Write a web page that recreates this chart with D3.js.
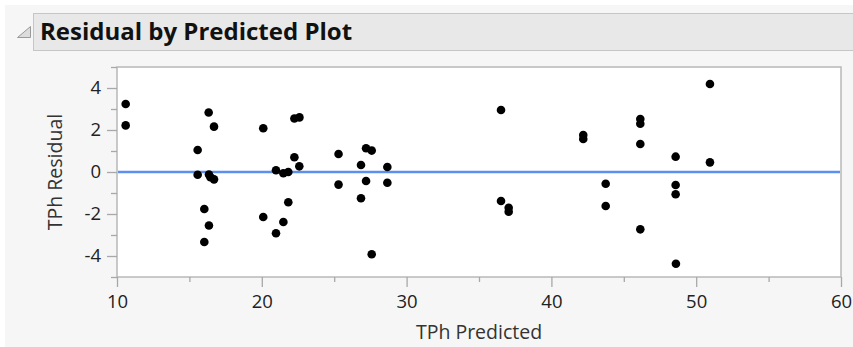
<!DOCTYPE html>
<html>
<head>
<meta charset="utf-8">
<script src="https://cdn.jsdelivr.net/npm/d3@7"></script>
<style>
  html, body { margin: 0; padding: 0; background: #ffffff; }
  svg { display: block; }
  text { font-family: "Open Sans", "Noto Sans", sans-serif; }
</style>
</head>
<body>
<svg id="chart" width="853" height="347"></svg>
<script>
// Predicted TPh values and their residuals
const predicted = [
  10.6, 10.6,
  15.57, 15.57, 16.33, 16.7, 16.35, 16.45, 16.7, 16.03, 16.35, 16.03,
  20.1, 22.25, 22.6, 20.98, 21.49, 21.83, 22.25, 22.59, 21.83, 20.1, 21.49, 20.98,
  25.3, 25.3, 26.85, 26.85, 27.2, 27.59, 27.2, 27.59, 28.67, 28.67,
  36.52, 36.52, 37.05, 37.05,
  42.2, 42.2, 43.75, 43.75,
  46.14, 46.14, 46.14, 46.14,
  48.58, 48.58, 48.58, 48.6,
  50.95, 50.95
];
const residual = [
  3.24, 2.22,
  1.05, -0.13, 2.83, 2.16, -0.12, -0.25, -0.35, -1.76, -2.55, -3.33,
  2.08, 2.55, 2.6, 0.08, -0.06, 0.0, 0.7, 0.27, -1.44, -2.14, -2.38, -2.92,
  0.86, -0.6, 0.33, -1.25, 1.13, 1.02, -0.43, -3.92, 0.24, -0.51,
  2.95, -1.38, -1.7, -1.89,
  1.76, 1.57, -0.56, -1.62,
  2.52, 2.3, 1.33, -2.73,
  0.73, -0.62, -1.06, -4.37,
  4.19, 0.46
];
const xTicks = [10, 20, 30, 40, 50, 60];
const xMinorTicks = [15, 25, 35, 45, 55];
const yTicks = [-4, -2, 0, 2, 4];
const yMinorTicks = [-5, -3, -1, 1, 3, 5];
const title = "Residual by Predicted Plot";
const xTitle = "TPh Predicted";
const yTitle = "TPh Residual";

const svg = d3.select("#chart");
const W = 853, H = 347;

// panel background
svg.append("rect").attr("x", 0).attr("y", 0).attr("width", W).attr("height", H).attr("fill", "#ffffff");
svg.append("rect").attr("x", 5).attr("y", 5).attr("width", W - 5).attr("height", H - 5).attr("fill", "#f6f6f6");

// outline header bar
svg.append("rect").attr("x", 33.5).attr("y", 13.5).attr("width", W - 33).attr("height", 37)
  .attr("fill", "#e8e8e8").attr("stroke", "#c6c6c6").attr("stroke-width", 1);
// disclosure triangle
svg.append("path").attr("d", "M17.5,37.5 L30.5,37.5 L30.5,26.5 Z")
  .attr("fill", "#dcdcdc").attr("stroke", "#999").attr("stroke-width", 1);
svg.append("text").attr("x", 40).attr("y", 40)
  .attr("font-size", 24).attr("font-weight", 700).attr("fill", "#111")
  .text(title);

const plot = { left: 117, right: 841, top: 67, bottom: 277 };
const x = d3.scaleLinear().domain([10, 60]).range([plot.left, plot.right]);
const y = d3.scaleLinear().domain([-5, 5]).range([plot.bottom, plot.top]);

// plot frame
svg.append("rect").attr("x", plot.left).attr("y", plot.top)
  .attr("width", plot.right - plot.left).attr("height", plot.bottom - plot.top)
  .attr("fill", "#ffffff").attr("stroke", "#b8b8b8").attr("stroke-width", 1.5);

// axes
const axisColor = "#a8a8a8";
const plainNumber = d => String(d);
function styleAxis(g) {
  g.select(".domain").remove();
  g.selectAll(".tick line").attr("stroke", axisColor).attr("stroke-width", 1.3);
  g.selectAll(".tick text").attr("fill", "#222").attr("font-size", 18.5)
    .attr("font-family", "\"Open Sans\", \"Noto Sans\", sans-serif");
}
const xAxis = svg.append("g").attr("transform", `translate(0,${plot.bottom})`)
  .call(d3.axisBottom(x).tickValues(xTicks).tickSize(10).tickPadding(8).tickFormat(plainNumber));
styleAxis(xAxis);
const xMinor = svg.append("g").attr("transform", `translate(0,${plot.bottom})`)
  .call(d3.axisBottom(x).tickValues(xMinorTicks).tickSize(5).tickFormat(""));
styleAxis(xMinor);

const yAxis = svg.append("g").attr("transform", `translate(${plot.left},0)`)
  .call(d3.axisLeft(y).tickValues(yTicks).tickSize(10).tickPadding(6).tickFormat(plainNumber));
styleAxis(yAxis);
const yMinor = svg.append("g").attr("transform", `translate(${plot.left},0)`)
  .call(d3.axisLeft(y).tickValues(yMinorTicks).tickSize(6).tickFormat(""));
styleAxis(yMinor);

// zero reference line
svg.append("line").attr("x1", plot.left + 1).attr("x2", plot.right - 1)
  .attr("y1", y(0)).attr("y2", y(0))
  .attr("stroke", "#5b8ff0").attr("stroke-width", 2.6);

// residual points
svg.append("g").selectAll("circle")
  .data(predicted.map((p, i) => [p, residual[i]]))
  .join("circle")
  .attr("cx", d => x(d[0])).attr("cy", d => y(d[1]))
  .attr("r", 4.3).attr("fill", "#000");

// axis titles
svg.append("text").attr("x", (plot.left + plot.right) / 2).attr("y", 339)
  .attr("text-anchor", "middle").attr("font-size", 19.5).attr("fill", "#333")
  .text(xTitle);
svg.append("text").attr("transform", `translate(62,${(plot.top + plot.bottom) / 2}) rotate(-90)`)
  .attr("text-anchor", "middle").attr("font-size", 19.5).attr("fill", "#333")
  .text(yTitle);
</script>
</body>
</html>
